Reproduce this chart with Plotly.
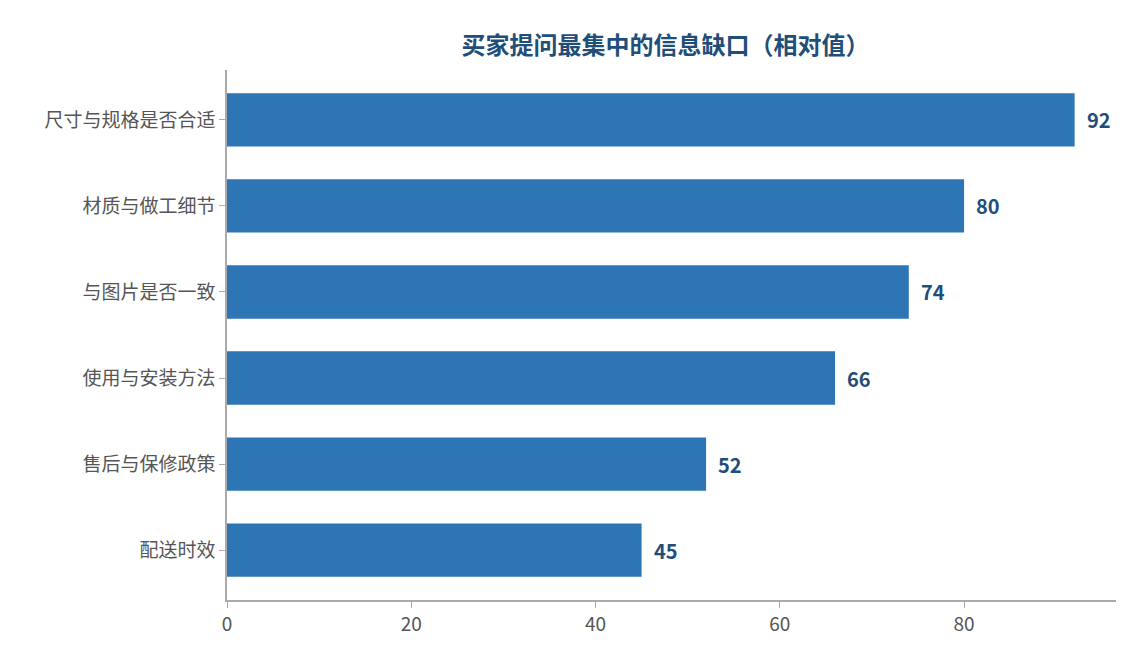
import plotly.graph_objects as go

categories = ["尺寸与规格是否合适", "材质与做工细节", "与图片是否一致", "使用与安装方法", "售后与保修政策", "配送时效"]
values = [92, 80, 74, 66, 52, 45]
x_ticks = [0, 20, 40, 60, 80]

cats = categories[::-1]
vals = values[::-1]

fig = go.Figure(go.Bar(
    x=vals, y=cats, orientation="h", width=0.62,
    marker=dict(color="#2E75B6", line=dict(width=0)),
))
for c, v in zip(cats, vals):
    fig.add_annotation(x=v, y=c, text=f"<b>{v}</b>", showarrow=False, xanchor="left",
                       xshift=10, font=dict(size=20, color="#1F4E79", family="Noto Sans CJK SC"))
fig.update_layout(
    width=1124, height=645,
    margin=dict(l=219, r=15, t=62, b=53, autoexpand=False),
    paper_bgcolor="white", plot_bgcolor="white",
    font=dict(family="Noto Sans CJK SC", color="#555555", size=19),
    title=dict(text="<b>买家提问最集中的信息缺口（相对值）</b>", x=0.585, xanchor="center", y=0.955,
               font=dict(size=24, color="#1F4E79")),
    showlegend=False,
)
fig.update_xaxes(range=[0, 96.6], tickvals=x_ticks, showgrid=False, zeroline=False, automargin=False,
                 showline=True, linecolor="#AAAAAA", linewidth=1.5, ticks="outside",
                 ticklen=6, tickcolor="#AAAAAA", tickfont=dict(size=19, color="#555555"))
fig.update_yaxes(range=[-0.58, 5.58], showgrid=False, showline=True, linecolor="#AAAAAA", automargin=False,
                 linewidth=1.5, ticks="outside", ticklen=6, tickcolor="#AAAAAA",
                 tickfont=dict(size=19, color="#555555"))
fig.write_html("out.html")
